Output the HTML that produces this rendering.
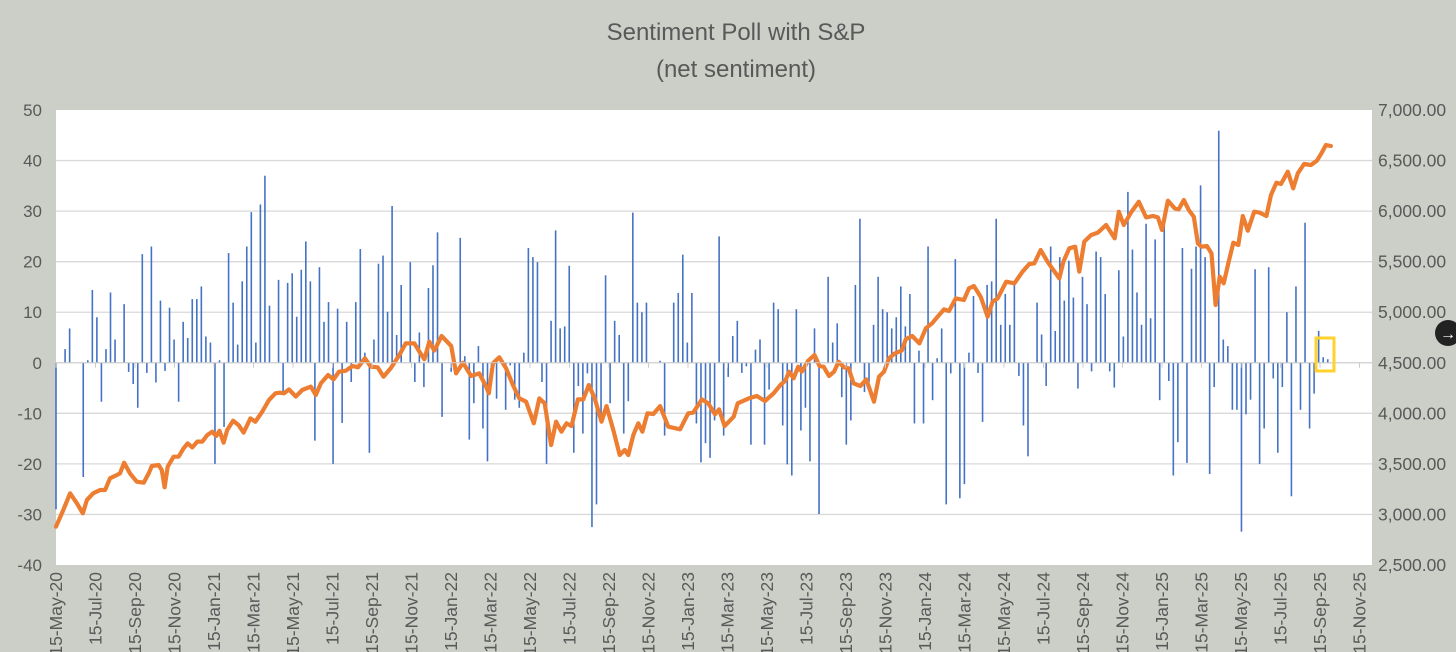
<!DOCTYPE html>
<html><head><meta charset="utf-8"><style>
html,body{margin:0;padding:0;background:#cbcfc8;}
svg{display:block;font-family:"Liberation Sans",sans-serif;}
</style></head><body>
<svg id="chart" width="1456" height="652" viewBox="0 0 1456 652" xmlns="http://www.w3.org/2000/svg">
<rect x="0" y="0" width="1456" height="652" fill="#cbcfc8"/>
<text x="736" y="40" text-anchor="middle" font-size="24" fill="#595959">Sentiment Poll with S&amp;P</text>
<text x="736" y="77" text-anchor="middle" font-size="24" fill="#595959">(net sentiment)</text>
<rect x="56" y="110" width="1316" height="455" fill="#ffffff"/>
<g id="grid"></g><g id="bars"></g><g id="line"></g><g id="axes"></g>
<rect x="1316" y="338" width="18" height="33" fill="none" stroke="#ffd22e" stroke-width="3"/>
<circle cx="1448" cy="333" r="13" fill="#222222"/>
<text x="1448" y="339" text-anchor="middle" font-size="16" fill="#ffffff">→</text>
</svg>
<script>
const leftTicks=[50,40,30,20,10,0,-10,-20,-30,-40];
const rightTicks=[7000,6500,6000,5500,5000,4500,4000,3500,3000,2500];
const xTickLabels=["15-May-20","15-Jul-20","15-Sep-20","15-Nov-20","15-Jan-21","15-Mar-21","15-May-21","15-Jul-21","15-Sep-21","15-Nov-21","15-Jan-22","15-Mar-22","15-May-22","15-Jul-22","15-Sep-22","15-Nov-22","15-Jan-23","15-Mar-23","15-May-23","15-Jul-23","15-Sep-23","15-Nov-23","15-Jan-24","15-Mar-24","15-May-24","15-Jul-24","15-Sep-24","15-Nov-24","15-Jan-25","15-Mar-25","15-May-25","15-Jul-25","15-Sep-25","15-Nov-25"];
const barWeeks=[0,2,3,6,7,8,9,10,11,12,13,15,16,17,18,19,20,21,22,23,24,25,26,27,28,29,30,31,32,33,34,35,36,37,38,39,40,41,42,43,44,45,46,47,49,50,51,52,53,54,55,56,57,58,59,60,61,62,63,64,65,66,67,68,69,70,71,72,73,74,75,76,78,79,80,81,82,83,84,85,87,89,90,91,92,93,94,95,97,99,100,101,102,103,104,105,106,107,108,109,110,111,112,113,114,115,116,117,118,119,120,121,122,123,124,125,126,127,128,129,130,133,134,136,137,138,139,140,141,142,143,144,145,146,147,148,149,150,151,152,153,154,155,156,157,158,159,160,161,162,163,164,165,166,167,168,170,171,172,173,174,175,176,177,178,179,180,181,182,183,184,185,186,187,188,189,190,191,192,193,194,195,196,197,198,199,200,201,202,203,204,205,206,207,208,209,210,211,212,213,214,216,217,218,219,220,221,222,223,224,225,226,227,228,229,230,231,232,233,234,235,236,237,238,239,240,241,242,243,244,245,246,247,248,249,250,251,252,253,254,255,256,257,258,259,260,261,262,263,264,265,266,267,268,269,270,271,272,273,274,275,276,277,278,279,280];
const barValues=[-29,2.7,6.8,-22.6,0.5,14.4,9,-7.7,2.7,13.9,4.6,11.6,-1.8,-4.2,-8.9,21.5,-2,23,-3.9,12.3,-1.6,10.9,4.6,-7.7,8.1,4.9,12.6,12.6,15.1,5.2,4,-20,0.5,-12.7,21.7,11.9,3.6,16.1,23,29.8,4,31.3,37,11.3,16.4,-6,15.8,17.7,9.1,18.4,24,16.1,-15.4,18.9,8.1,12,-20,10.7,-11.9,8.1,-3.8,12,22.5,2,-17.8,4.6,19.6,21.2,10.1,31,5.5,15.4,19.9,-3.8,6,-4.8,14.8,19.3,25.8,-10.7,-1.8,24.7,1.3,-15.2,-8,3.3,-13,-19.5,-7.1,-9.3,-0.5,-7.3,-8.9,2,22.7,20.9,19.9,-3.8,-20,8.3,26.2,6.8,7.2,19.2,-17.8,-4.6,-14,-2.1,-32.5,-28,-11.7,17.3,-8,8.3,5.5,-14,-7.6,29.7,11.9,10,11.9,0.4,-14.4,11.9,13.8,21.4,4,13.8,-12,-19.7,-15.9,-18.8,-11.4,25,-14.4,-2.8,5.3,8.3,-2,-0.7,-16.2,2.6,4.6,-16.2,-5.3,11.9,10.6,-12.4,-20.1,-22.3,10.6,-13.4,-8.9,-19.5,6.8,-29.9,17,4,7.8,-6.8,-16.2,-11.4,15.4,28.5,-5.8,-3.8,7.5,17,10.6,10,6.8,9,15.1,7.2,13.6,-12,2.4,-12,23,-7.4,0.9,6.8,-28,-2.1,20.5,-26.8,-24,2,13.2,-2,-11.7,15.4,16.1,28.5,7.5,13.6,7.5,15.4,-2.6,-12.4,-18.5,11.9,5.6,-4.6,23,6.3,20.9,12.3,20.2,12.9,-5.1,17,11.6,-1.7,22,20.9,13.6,-1.7,-4.9,18.3,5.2,33.8,22.4,13.9,7.5,27.5,8.8,24.4,-7.4,28.3,-3.6,-22.3,-15.7,22.7,-19.8,18.6,23,35.1,20.9,-22,-4.8,45.9,4.6,3.3,-9.3,-9.3,-33.4,-10.2,-7.3,18.5,-20,-13,18.9,-3.1,-17.8,-4.8,10,-26.4,15.1,-9.3,27.7,-13,-6.1,6.3,1.1,0.7];
const spWeeks=[0,1.6,3.1,4.6,5.9,6.8,8.2,9.7,10.8,11.9,13.4,14.1,15,16.3,17.8,19.3,20.4,21.1,22.6,23.3,23.9,24.6,25.9,27,28.1,29,30,31.1,32.2,33.3,34.4,35.3,36,36.9,37.7,39,40.2,41.3,42.8,43.9,45.4,46.9,48.3,49.3,50.2,51.3,52.8,54.2,56.1,57.2,58.3,59.9,61.1,62.3,63.8,65.3,66.5,68,69.3,70.8,72.1,73.7,75.6,77,78.9,80,81.1,82.2,83.3,84.9,87,88.1,89.6,91.4,93.2,94.7,95.3,96.2,97.6,99.1,100.6,102,103.5,105.2,106.4,107.6,109,110.1,111.3,112.4,113.5,114.9,116.1,117.3,118.6,120.1,121.2,122.7,124.1,125.2,126,127.1,128.2,129.1,130.2,131.5,133,134.8,137.4,139.2,140.3,142.2,143.6,145.1,146,147.2,149.2,150.1,152.5,154.3,156.1,158,159.5,160.6,161.4,162.4,163.4,164.2,165.6,167,168.1,169,170.2,171.3,172.3,173.5,174.5,175.6,177.1,178.4,180.1,181.2,182.3,183.4,184.7,186.2,187.1,188.5,190.1,191.5,192.9,194.1,195.5,196.6,198.1,199.9,201,202.1,203.6,205.1,206.2,207.3,209.2,211,212.8,214.3,215.4,216.8,218.3,219.6,220.9,221.8,223.1,224.4,225.3,226.4,227.9,229.4,231.2,233.1,234,235.1,236.8,238.4,240,241.5,242.6,243.5,244.8,246.3,247.2,248.3,249.4,250.5,251.4,252.2,253.4,254.4,255.3,256.2,257.1,258.1,259.2,260.3,261.3,262.4,263.8,265,266.5,267.5,268.7,269.7,271.2,272.4,273.4,274.8,276.3,277.6,278.6,279.6,280.7];
const spValues=[2879,3044,3209,3110,3011,3143,3209,3242,3242,3357,3390,3406,3512,3406,3324,3314,3406,3479,3489,3439,3268,3472,3571,3571,3654,3703,3663,3720,3720,3785,3818,3776,3828,3710,3835,3927,3884,3809,3950,3917,4016,4132,4198,4204,4198,4237,4165,4231,4264,4181,4296,4379,4336,4412,4422,4468,4455,4544,4461,4455,4362,4445,4577,4692,4692,4610,4534,4709,4620,4765,4666,4395,4501,4369,4395,4264,4198,4494,4554,4445,4280,4148,4115,3901,4148,4099,3687,3917,3818,3901,3874,4138,4138,4280,4148,3917,4072,3835,3588,3637,3588,3785,3901,3818,4000,3993,4072,3868,3842,4000,4006,4138,4099,3990,4039,3874,3967,4099,4148,4171,4122,4198,4280,4323,4412,4346,4461,4412,4521,4577,4468,4461,4369,4412,4511,4455,4445,4296,4270,4336,4115,4362,4412,4544,4593,4620,4732,4765,4692,4840,4890,4956,5028,5012,5137,5121,5236,5259,5154,4956,5104,5137,5302,5286,5401,5477,5483,5615,5500,5417,5335,5500,5632,5648,5401,5698,5764,5787,5863,5731,5994,5863,5994,6093,5938,5952,5938,5813,6103,6027,6018,6110,6011,5945,5681,5648,5655,5582,5071,5352,5286,5483,5688,5665,5952,5806,5994,5985,5952,6159,6281,6268,6390,6225,6374,6466,6456,6499,6571,6654,6644];

const NS="http://www.w3.org/2000/svg";
const PL=56,PR=1372,PT=110,PB=565;
const X0=56,WEEKPX=39.5*12/2/52.18;
function xW(w){return X0+w*WEEKPX;}
function xTick(i){return X0+i*39.5;}
function yL(v){return PT+(50-v)*(PB-PT)/90;}
function yR(v){return PT+(7000-v)*(PB-PT)/4500;}
function mk(tag,attrs,parent){const e=document.createElementNS(NS,tag);for(const k in attrs)e.setAttribute(k,attrs[k]);parent.appendChild(e);return e;}
const grid=document.getElementById('grid'),bars=document.getElementById('bars'),lineG=document.getElementById('line'),axes=document.getElementById('axes');
leftTicks.forEach(v=>{
  if(v!==50&&v!==-40){const g=mk('line',{x1:PL,x2:PR,y1:yL(v),y2:yL(v),stroke:'#d9d9d9','stroke-width':1.3},grid);
  
  }
  const t=mk('text',{x:42,y:yL(v)+6,'text-anchor':'end','font-size':17,fill:'#595959'},axes);
  t.textContent=v;
  
  
});
rightTicks.forEach(v=>{
  const t=mk('text',{x:1378,y:yR(v)+6,'font-size':17.5,fill:'#595959'},axes);
  t.textContent=v.toLocaleString('en-US',{minimumFractionDigits:2});
  
  
});
const zl=mk('line',{x1:PL,x2:PR,y1:yL(0),y2:yL(0),stroke:'#d0d0d0','stroke-width':1},axes);


xTickLabels.forEach((lab,i)=>{
  const x=xTick(i);
  const tk=mk('line',{x1:x,x2:x,y1:yL(0),y2:yL(0)+5,stroke:'#cccccc','stroke-width':1},axes);
  
  
  const t=mk('text',{x:0,y:0,'text-anchor':'end','font-size':17.5,fill:'#595959',transform:`translate(${x+6},572) rotate(-90)`},axes);
  t.textContent=lab;
  
  
});
barWeeks.forEach((w,i)=>{
  const v=barValues[i],x=xW(w);
  const b=mk('line',{x1:x,x2:x,y1:yL(0),y2:yL(v),stroke:'#4472c4','stroke-width':1.6},bars);
  
  
});
let d='';spWeeks.forEach((w,i)=>{d+=(i?'L':'M')+xW(w).toFixed(1)+' '+yR(spValues[i]).toFixed(1)+' ';});
const p=mk('path',{d:d,fill:'none',stroke:'#ed7d31','stroke-width':4.2,'stroke-linejoin':'round','stroke-linecap':'round'},lineG);


</script>
</body></html>
